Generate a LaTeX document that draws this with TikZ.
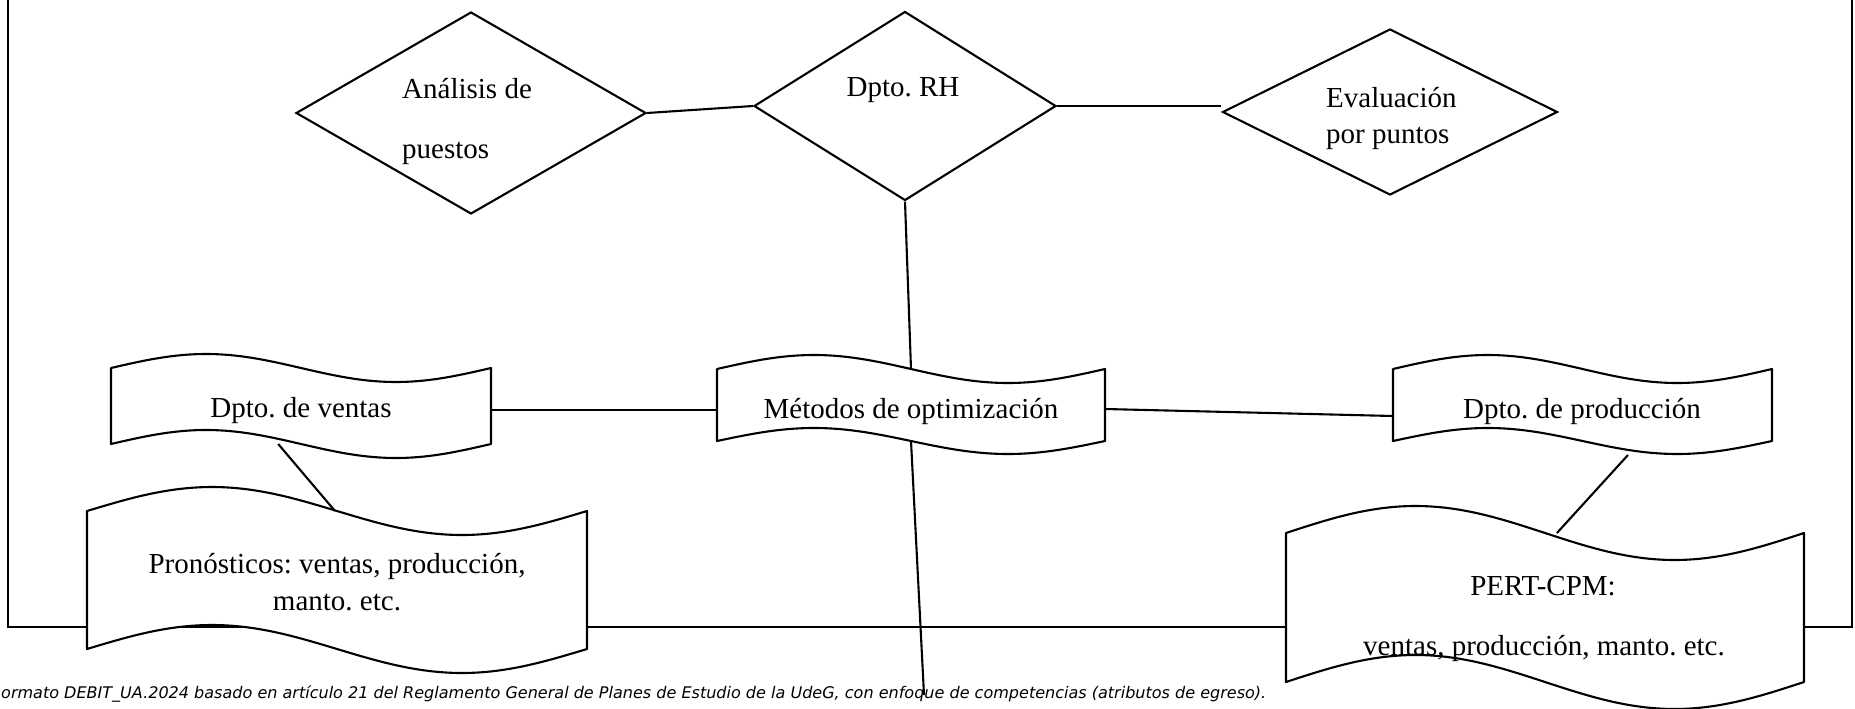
\documentclass[tikz,border=0pt]{standalone}
\usepackage{graphicx}
\usepackage{fontspec}
\setmainfont{Liberation Serif}
\newfontfamily\capfont{DejaVu Sans}
\usetikzlibrary{shapes.geometric,calc}
\pgfdeclarelayer{back}
\pgfdeclarelayer{mid}
\pgfsetlayers{back,mid,main}
\frenchspacing
\begin{document}
\begin{tikzpicture}[x=1pt,y=-1pt,
  dia/.style={diamond, draw, line width=2.1pt, inner sep=0pt, fill=white},
  wbox/.style={rectangle, inner sep=0pt, outer sep=0pt, draw=none},
  wave/.style={draw, line width=2.1pt, fill=white, line join=round},
  txt/.style={anchor=base, inner sep=0pt, font=\fontsize{29}{34}\selectfont},
  txtl/.style={txt, anchor=base west},
  conn/.style={line width=2.1pt},
  frame/.style={line width=2.4pt}]

\useasboundingbox (0,0) rectangle (1855,709);

\begin{pgfonlayer}{back}
\draw[frame] (8,-5) -- (8,627) -- (1852,627) -- (1852,-5);
\end{pgfonlayer}

% diamonds
\node[dia, minimum width=350, minimum height=202] (ana) at (471,113) {};
\node[dia, minimum width=302, minimum height=189] (rh) at (905,106) {};
\node[dia, minimum width=335, minimum height=166] (eva) at (1390,112) {};

% wave boxes (frames)
\node[wbox, minimum width=380, minimum height=76] (ventas) at (301,406) {};
\node[wbox, minimum width=388, minimum height=72] (met) at (911,405) {};
\node[wbox, minimum width=379, minimum height=72] (prod) at (1582.5,405) {};
\node[wbox, minimum width=500, minimum height=138] (pron) at (337,580) {};
\node[wbox, minimum width=518, minimum height=149] (pert) at (1545,607.5) {};

\begin{pgfonlayer}{mid}
\foreach \n/\w/\a/\b in {ventas/380/14/14, met/388/14/13, prod/379/14/13, pron/500/24/24, pert/518/27/27}{
  \draw[wave] (\n.north west) sin ++(\w/4,-\a) cos ++(\w/4,\a) sin ++(\w/4,\a) cos ++(\w/4,-\a)
    -- (\n.south east) sin ++(-\w/4,\b) cos ++(-\w/4,-\b) sin ++(-\w/4,-\b) cos ++(-\w/4,\b) -- cycle;
}
\end{pgfonlayer}

% texts
\node[txtl] (ana-t1) at (402,99) {Análisis de};
\node[txtl] (ana-t2) at (402,158) {puestos};
\node[txt] (rh-t) at (903,96) {Dpto. RH};
\node[txtl] (eva-t1) at (1326,107) {Evaluación};
\node[txtl] (eva-t2) at (1326,143) {por puntos};
\node[txt] (ventas-t) at (301,417) {Dpto. de ventas};
\node[txt] (met-t) at (911,418) {Métodos de optimización};
\node[txt] (prod-t) at (1582,418) {Dpto. de producción};
\node[txt] (pron-t1) at (337,573) {Pronósticos: ventas, producción,};
\node[txt] (pron-t2) at (337,610) {manto. etc.};
\node[txt] (pert-t1) at (1543,595) {PERT-CPM:};
\node[txt] (pert-t2) at (1544,655) {ventas, producción, manto. etc.};

% connectors
\draw[conn] (ana.east) -- (rh.west);
\draw[conn] (rh.east) -- (rh.east -| eva.west);
\draw[conn] (rh.south) -- (met.north);
\coordinate (tail) at (924,695);
\draw[conn] (met.south) -- (tail);
\draw[conn] ($(ventas.east)+(0,4)$) -- ($(met.west)+(0,5)$);
\draw[conn] ($(met.east)+(0,4)$) -- ($(prod.west)+(0,11)$);
\draw[conn] ($(ventas.south west)!0.44!(ventas.south east)$) -- ($(pron.north west)!0.496!(pron.north east)$);
\draw[conn] ($(prod.south west)!0.62!(prod.south east)+(0,14)$) -- ($(pert.north west)!0.523!(pert.north east)$);

% caption
\node[anchor=base west, inner sep=0pt] (cap) at (1,698) {\resizebox{1265pt}{!}{\capfont\itshape\fontsize{15}{18}\selectfont ormato DEBIT\_UA.2024 basado en artículo 21 del Reglamento General de Planes de Estudio de la UdeG, con enfoque de competencias (atributos de egreso).}};
\end{tikzpicture}
\end{document}
